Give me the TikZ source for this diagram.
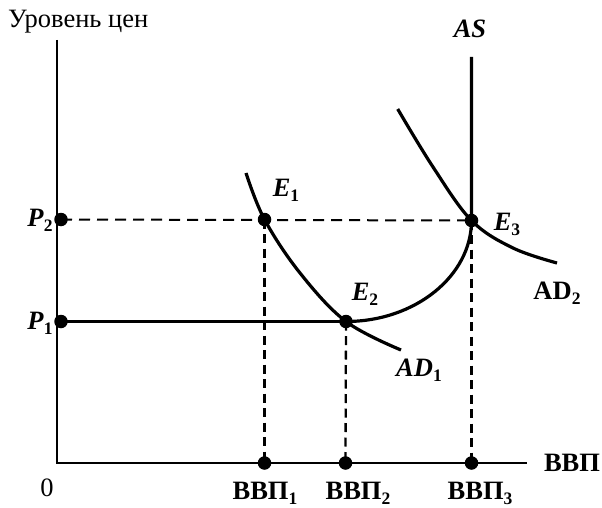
\documentclass[tikz,border=0pt]{standalone}
\usepackage{fontspec}
\setmainfont{Liberation Serif}
\newcommand\bi[1]{\textbf{\textit{#1}}}
\newcommand\sbs[1]{\raisebox{-0.4ex}{\fontsize{17.5}{18}\selectfont\bfseries #1}}
\begin{document}
\begin{tikzpicture}[x=1pt,y=-1pt,
  axis/.style={line width=2pt},
  curve/.style={line width=3.2pt},
  guide/.style={line width=2pt, dash pattern=on 11pt off 7pt},
  vguide/.style={line width=2.3pt, dash pattern=on 9pt off 5.5pt},
  dot/.style={circle, fill=black, inner sep=0pt, minimum size=13.5pt},
  lbl/.style={font=\fontsize{26.5}{28}\selectfont, inner sep=0pt}]
\useasboundingbox (0,0) rectangle (602,508);
% axes
\coordinate (ytop) at (57,40);
\coordinate (O) at (57,463);
\coordinate (xend) at (527,463);
\draw[axis] (ytop) -- (O) -- (xend);
% points
\coordinate (P2c) at (61,219.5);
\coordinate (P1c) at (61,321.5);
\coordinate (E1c) at (264.5,219.5);
\coordinate (E2c) at (346,321.5);
\coordinate (E3c) at (471.5,220.5);
\coordinate (G1c) at (264.5,463);
\coordinate (G2c) at (345.5,463);
\coordinate (G3c) at (471.5,463);
\coordinate (AStop) at (471.5,57);
% guides
\draw[guide] (P2c) -- (E3c);
\draw[vguide] (E1c) -- (G1c);
\draw[vguide] (E2c) -- (G2c);
\draw[vguide] (E3c) -- (G3c);
% AS
\draw[line width=3.4pt] (P1c) -- (E2c);
\draw[curve] (E2c) .. controls (415,321.5) and (471.5,276) .. (E3c) -- (AStop);
% AD1
\draw[curve] plot[smooth, tension=0.6] coordinates {(246,173) (264.5,219.5) (300,273) (346,321.5) (401,350)};
% AD2
\draw[curve] plot[smooth, tension=0.6] coordinates {(397.7,109) (433,167) (471.5,220.5) (513,248) (557,263)};
% dots
\node[dot] (P2) at (P2c) {};
\node[dot] (P1) at (P1c) {};
\node[dot] (E1) at (E1c) {};
\node[dot] (E2) at (E2c) {};
\node[dot] (E3) at (E3c) {};
\node[dot] (G1) at (G1c) {};
\node[dot] (G2) at (G2c) {};
\node[dot] (G3) at (G3c) {};
% labels
\node[lbl, anchor=base west] (ylab) at (8,28) {Уровень цен};
\node[lbl] (ASl) at (470,29) {\bi{AS}};
\node[lbl] (P2l) at (40,220) {\bi{P}\sbs{2}};
\node[lbl] (P1l) at (40,323) {\bi{P}\sbs{1}};
\node[lbl] (E1l) at (286,190) {\bi{E}\sbs{1}};
\node[lbl] (E2l) at (365,294) {\bi{E}\sbs{2}};
\node[lbl] (E3l) at (507,224) {\bi{E}\sbs{3}};
\node[lbl] (AD2l) at (557,293) {\textbf{AD}\sbs{2}};
\node[lbl] (AD1l) at (419,370) {\bi{AD}\sbs{1}};
\node[lbl] (xlab) at (572,463) {\textbf{ВВП}};
\node[lbl] (zero) at (47,488) {0};
\node[lbl] (G1l) at (265,493) {\textbf{ВВП}\sbs{1}};
\node[lbl] (G2l) at (358,493) {\textbf{ВВП}\sbs{2}};
\node[lbl] (G3l) at (480,493) {\textbf{ВВП}\sbs{3}};
\end{tikzpicture}
\end{document}
